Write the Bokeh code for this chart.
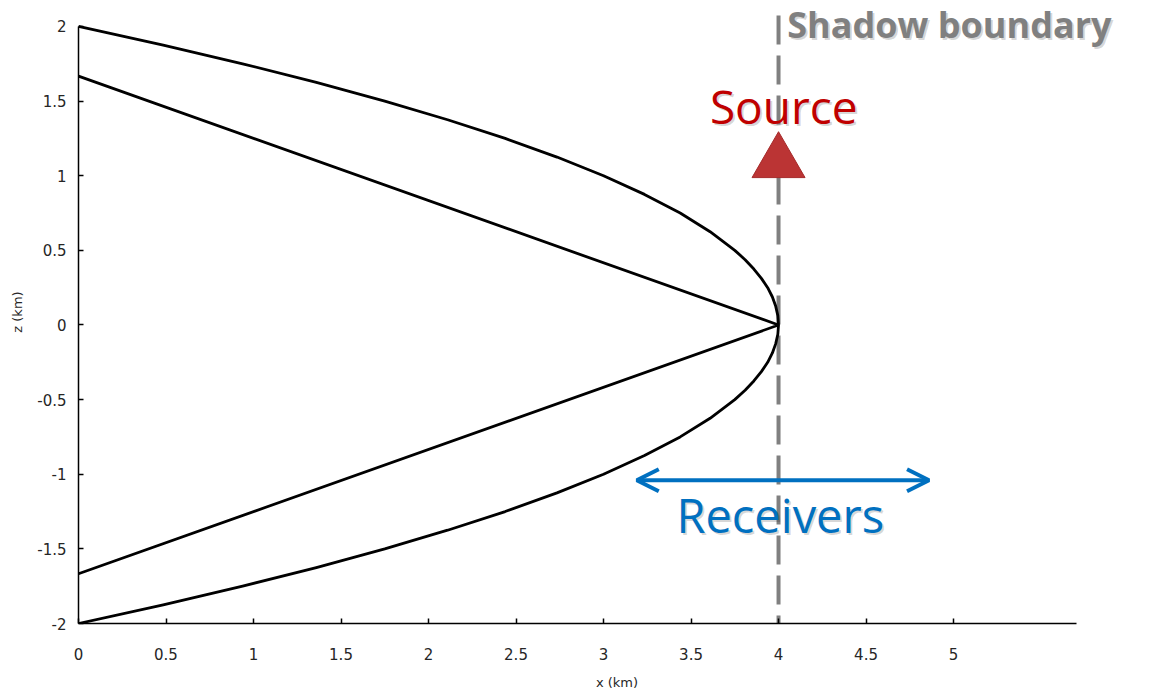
from bokeh.plotting import figure
from bokeh.models import Range1d, FixedTicker, Arrow, OpenHead
from bokeh.core.properties import value
from bokeh.embed import file_html
from bokeh.resources import INLINE

# ---- data ----
# parabolic boundary curve (x in km, z in km)
curve_z = [2.0, 1.875, 1.75, 1.625, 1.5, 1.375, 1.25, 1.125, 1.0, 0.875, 0.75, 0.625,
           0.5, 0.4375, 0.375, 0.3125, 0.25, 0.1875, 0.125, 0.0625, 0.0,
           -0.0625, -0.125, -0.1875, -0.25, -0.3125, -0.375, -0.4375, -0.5,
           -0.625, -0.75, -0.875, -1.0, -1.125, -1.25, -1.375, -1.5, -1.625,
           -1.75, -1.875, -2.0]
curve_x = [0.0, 0.484, 0.938, 1.359, 1.75, 2.109, 2.438, 2.734, 3.0, 3.234, 3.438, 3.609,
           3.75, 3.809, 3.859, 3.902, 3.938, 3.965, 3.984, 3.996, 4.0,
           3.996, 3.984, 3.965, 3.938, 3.902, 3.859, 3.809, 3.75,
           3.609, 3.438, 3.234, 3.0, 2.734, 2.438, 2.109, 1.75, 1.359,
           0.938, 0.484, 0.0]
# straight rays meeting at the apex
ray_x = [0.0, 4.0, 0.0]
ray_z = [1.667, 0.0, -1.667]
# shadow boundary
shadow_x = [4.0, 4.0]
shadow_z = [2.074, -2.0]
# source
source_x = [4.0]
source_z = [1.09]
# receivers span
recv_x0, recv_x1, recv_z = 3.19, 4.86, -1.04

x_ticks = [0, 0.5, 1, 1.5, 2, 2.5, 3, 3.5, 4, 4.5, 5]
x_tick_labels = ["0", "0.5", "1", "1.5", "2", "2.5", "3", "3.5", "4", "4.5", "5"]
y_ticks = [-2, -1.5, -1, -0.5, 0, 0.5, 1, 1.5, 2]
y_tick_labels = ["-2", "-1.5", "-1", "-0.5", "0", "0.5", "1", "1.5", "2"]

# text labels
source_label = ["Source"]
source_label_x, source_label_z = [4.03], [1.47]
recv_label = ["Receivers"]
recv_label_x, recv_label_z = [4.01], [-1.275]
shadow_label = ["Shadow boundary"]
shadow_label_x, shadow_label_z = [4.05], [2.01]

RED = "#c00000"
BLUE = "#0070c0"
GRAY = "#808080"

p = figure(width=1155, height=692,
           x_range=Range1d(0, 6.154), y_range=Range1d(-2, 2.174),
           output_backend="svg", toolbar_location=None,
           min_border_left=78, min_border_right=0, min_border_top=0, min_border_bottom=68)

p.xgrid.visible = False
p.ygrid.visible = False
p.outline_line_color = None
p.background_fill_color = "white"
p.border_fill_color = "white"

# shadow boundary dashed line
p.line(shadow_x, shadow_z, line_color=GRAY, line_width=4, line_dash="29 11")

# curves
p.line(curve_x, curve_z, line_color="black", line_width=2.8, line_join="round")
p.line(ray_x, ray_z, line_color="black", line_width=2.8)

# source triangle
p.scatter(source_x, source_z, marker="triangle", size=53,
          fill_color="#bb3434", line_color="#a52a2a", line_width=1)

# receivers arrow
p.add_layout(Arrow(start=OpenHead(size=22, line_color=BLUE, line_width=4),
                   end=OpenHead(size=22, line_color=BLUE, line_width=4),
                   x_start=recv_x0, y_start=recv_z, x_end=recv_x1, y_end=recv_z,
                   line_color=BLUE, line_width=4))

# texts with soft shadow
def label(xs, zs, txt, color, size, style="normal", align="center"):
    p.text(xs, zs, text=txt, text_font=value("Open Sans"), text_font_size=size,
           text_font_style=style, text_color="black", text_alpha=0.16,
           text_align=align, text_baseline="alphabetic", x_offset=2, y_offset=2)
    p.text(xs, zs, text=txt, text_font=value("Open Sans"), text_font_size=size,
           text_font_style=style, text_color=color,
           text_align=align, text_baseline="alphabetic")

label(source_label_x, source_label_z, source_label, RED, "46px")
label(recv_label_x, recv_label_z, recv_label, BLUE, "47px")
label(shadow_label_x, shadow_label_z, shadow_label, GRAY, "36px", style="bold", align="left")

# axes
for ax, ticks, labs in ((p.xaxis, x_ticks, x_tick_labels), (p.yaxis, y_ticks, y_tick_labels)):
    ax.ticker = FixedTicker(ticks=ticks)
    ax.major_label_overrides = {float(t): l for t, l in zip(ticks, labs)}
    ax.axis_line_color = "black"
    ax.axis_line_width = 1.5
    ax.major_tick_line_color = "black"
    ax.major_tick_line_width = 1.5
    ax.major_tick_in = 5
    ax.major_tick_out = 0
    ax.minor_tick_line_color = None
    ax.major_label_text_font = "DejaVu Sans"
    ax.major_label_text_font_size = "15px"
    ax.major_label_text_color = "#262626"
    ax.axis_label_text_font = "DejaVu Sans"
    ax.axis_label_text_font_size = "13px"
    ax.axis_label_text_font_style = "normal"
    ax.axis_label_text_color = "#262626"

p.xaxis.bounds = (0, 5.7)
p.yaxis.bounds = (-2, 2)
p.xaxis.axis_label = "x (km)"
p.yaxis.axis_label = "z (km)"
p.xaxis.major_label_standoff = 24
p.xaxis.axis_label_standoff = 12
p.yaxis.major_label_standoff = 12
p.yaxis.axis_label_standoff = 9

open("out.html", "w").write(file_html(p, INLINE))
